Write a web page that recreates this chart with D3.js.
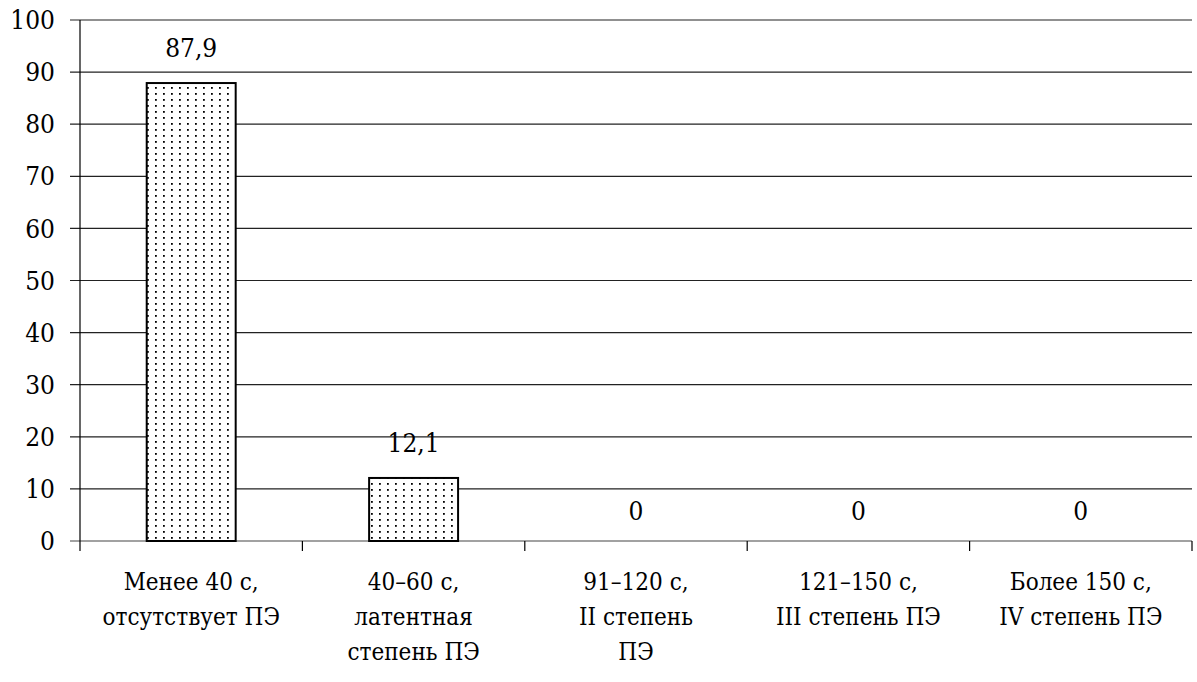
<!DOCTYPE html>
<html><head><meta charset="utf-8">
<script src="https://cdn.jsdelivr.net/npm/d3@7"></script>
<style>body{margin:0;background:#fff}svg{display:block}</style>
</head><body>
<svg id="c" width="1197" height="682" font-family="'DejaVu Serif Condensed', 'DejaVu Serif', serif" font-stretch="condensed"></svg>
<script>
const categories = [
  ["Менее 40 с,", "отсутствует ПЭ"],
  ["40–60 с,", "латентная", "степень ПЭ"],
  ["91–120 с,", "II степень", "ПЭ"],
  ["121–150 с,", "III степень ПЭ"],
  ["Более 150 с,", "IV степень ПЭ"]
];
const values = [87.9, 12.1, 0, 0, 0];
const valueLabels = ["87,9", "12,1", "0", "0", "0"];
const yTicks = [0, 10, 20, 30, 40, 50, 60, 70, 80, 90, 100];

const svg = d3.select("#c");
const L = 80, R = 1192, T = 20, B = 541;
const x = d3.scaleBand().domain(d3.range(categories.length)).range([L, R]).padding(0);
const y = d3.scaleLinear().domain([0, 100]).range([B, T]);

const defs = svg.append("defs");
const pat = defs.append("pattern").attr("id", "dots").attr("patternUnits", "userSpaceOnUse")
  .attr("width", 8).attr("height", 6).attr("x", 2).attr("y", 2);
pat.append("rect").attr("width", 8).attr("height", 6).attr("fill", "#fff");
pat.append("rect").attr("x", 1).attr("y", 1).attr("width", 1.8).attr("height", 1.8).attr("fill", "#000");

svg.append("g").selectAll("line").data(yTicks).join("line")
  .attr("x1", L - 10).attr("x2", R).attr("y1", d => y(d)).attr("y2", d => y(d))
  .attr("stroke", d => d === 0 ? "#444" : "#222").attr("stroke-width", 1.2);
svg.append("g").selectAll("text").data(yTicks).join("text")
  .attr("x", 55).attr("y", d => y(d)).attr("dy", "0.35em").attr("text-anchor", "end")
  .attr("font-size", 26).text(d => d);

svg.append("line").attr("x1", L).attr("x2", L).attr("y1", T).attr("y2", B + 10)
  .attr("stroke", "#000").attr("stroke-width", 1.2);
const bounds = categories.map((c, i) => x(i)).concat([R]).slice(1);
svg.append("g").selectAll("line").data(bounds).join("line")
  .attr("x1", d => d).attr("x2", d => d).attr("y1", B).attr("y2", B + 10)
  .attr("stroke", "#000").attr("stroke-width", 1.2);

const bw = x.bandwidth() * 0.4;
svg.append("g").selectAll("rect").data(values.map((v, i) => ({v, i})).filter(d => d.v > 0)).join("rect")
  .attr("x", d => x(d.i) + x.bandwidth() / 2 - bw / 2).attr("width", bw)
  .attr("y", d => y(d.v)).attr("height", d => B - y(d.v))
  .attr("fill", "url(#dots)").attr("stroke", "#000").attr("stroke-width", 2);

svg.append("g").selectAll("text").data(values).join("text")
  .attr("x", (d, i) => x(i) + x.bandwidth() / 2).attr("y", d => y(d) - (d > 0 ? 26 : 21))
  .attr("text-anchor", "middle").attr("font-size", 26).text((d, i) => valueLabels[i]);

const cg = svg.append("g").selectAll("text").data(categories).join("text")
  .attr("x", (d, i) => x(i) + x.bandwidth() / 2).attr("y", 590)
  .attr("text-anchor", "middle").attr("font-size", 24);
cg.selectAll("tspan").data(d => d).join("tspan")
  .attr("x", function() { return d3.select(this.parentNode).attr("x"); })
  .attr("dy", (d, j) => j === 0 ? 0 : 35).text(d => d);
</script>
</body></html>
